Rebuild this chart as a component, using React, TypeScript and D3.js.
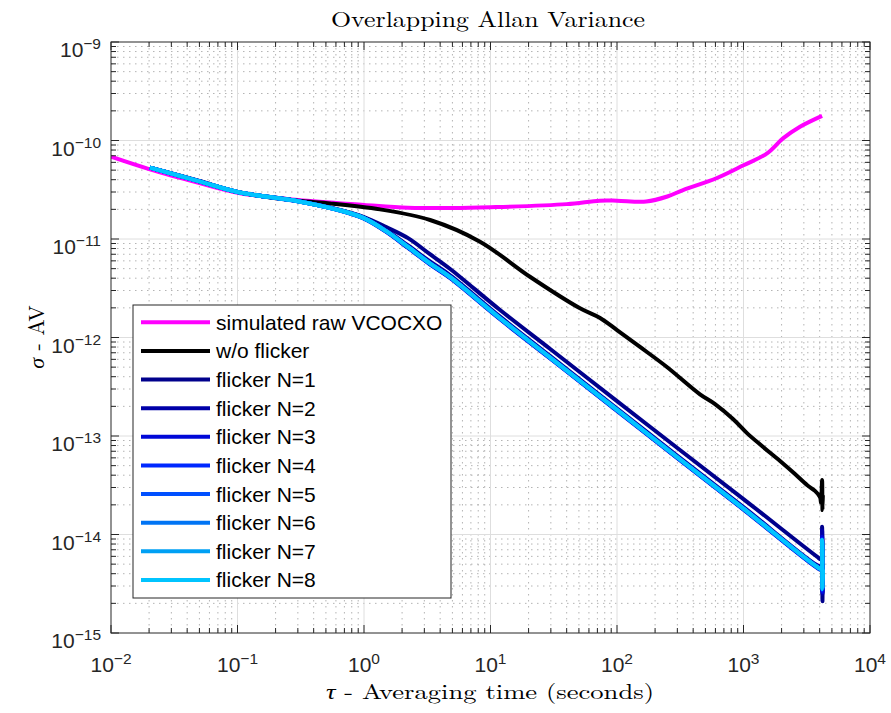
import React from "react";
import * as d3 from "d3";

// ---------- data ----------
const rawTau = [0.01, 0.0203, 0.05, 0.1, 0.3, 1, 2.23, 5, 10, 40, 73, 100, 170, 250, 333, 617, 1000, 1535, 2052, 2797, 4180];
const rawVal = [6.85e-11, 5.1e-11, 3.7e-11, 2.95e-11, 2.49e-11, 2.22e-11, 2.08e-11, 2.06e-11, 2.1e-11, 2.26e-11, 2.45e-11, 2.45e-11, 2.4e-11, 2.7e-11, 3.14e-11, 4.16e-11, 5.6e-11, 7.4e-11, 1.05e-10, 1.38e-10, 1.78e-10];

const noFlickTau = [0.0203, 0.05, 0.1, 0.3, 0.538, 1.34, 3.33, 8.26, 20.5, 51, 73.5, 100, 152, 248, 453, 596, 826, 1066, 1400, 1946, 2553, 3178, 3673, 4027, 4100, 4180, 4210, 4240];
const noFlickVal = [5.3e-11, 3.85e-11, 3.0e-11, 2.44e-11, 2.3e-11, 2.0e-11, 1.56e-11, 9.4e-12, 4.14e-12, 1.98e-12, 1.58e-12, 1.19e-12, 8.02e-13, 5.02e-13, 2.65e-13, 2.11e-13, 1.49e-13, 1.07e-13, 7.91e-14, 5.57e-14, 4.11e-14, 3.18e-14, 2.77e-14, 2.4e-14, 2.1e-14, 3.57e-14, 1.77e-14, 2.5e-14];

const flickTau = [0.0203, 0.05, 0.1, 0.3, 0.6, 1, 1.5, 2.23, 3.3, 4.8, 11.9, 30, 100, 300, 1000, 3811, 4100, 4180, 4210, 4240];
const flickN1 = [5.3e-11, 3.88e-11, 3.0e-11, 2.43e-11, 2.02e-11, 1.67e-11, 1.32e-11, 1.02e-11, 7.05e-12, 4.96e-12, 1.9e-12, 7.55e-13, 2.26e-13, 7.55e-14, 2.29e-14, 5.96e-15, 5.6e-15, 1.2e-14, 2.1e-15, 5.0e-15];
const flickN2 = [5.3e-11, 3.86e-11, 3.01e-11, 2.43e-11, 2.01e-11, 1.65e-11, 1.23e-11, 8.6e-12, 5.95e-12, 4.28e-12, 1.63e-12, 6.4e-13, 1.9e-13, 6.3e-14, 1.9e-14, 4.9e-15, 4.8e-15, 1.1e-14, 2.5e-15, 5.0e-15];
const flickN3 = [5.3e-11, 3.84e-11, 2.99e-11, 2.41e-11, 1.99e-11, 1.61e-11, 1.18e-11, 8.1e-12, 5.55e-12, 4.0e-12, 1.53e-12, 6.05e-13, 1.8e-13, 5.95e-14, 1.79e-14, 4.6e-15, 4.4e-15, 9.5e-15, 2.6e-15, 4.3e-15];
const flickN4 = [5.3e-11, 3.85e-11, 3.0e-11, 2.42e-11, 2.0e-11, 1.62e-11, 1.19e-11, 8.2e-12, 5.6e-12, 4.05e-12, 1.55e-12, 6.1e-13, 1.82e-13, 6.0e-14, 1.81e-14, 4.65e-15, 4.5e-15, 9.0e-15, 2.7e-15, 4.4e-15];
const flickN5 = [5.3e-11, 3.85e-11, 3.0e-11, 2.42e-11, 2.0e-11, 1.62e-11, 1.2e-11, 8.25e-12, 5.65e-12, 4.08e-12, 1.56e-12, 6.13e-13, 1.83e-13, 6.05e-14, 1.82e-14, 4.7e-15, 4.5e-15, 8.5e-15, 2.9e-15, 4.4e-15];
const flickN6 = [5.3e-11, 3.85e-11, 3.0e-11, 2.42e-11, 2.0e-11, 1.63e-11, 1.2e-11, 8.28e-12, 5.68e-12, 4.09e-12, 1.57e-12, 6.16e-13, 1.84e-13, 6.07e-14, 1.83e-14, 4.7e-15, 4.5e-15, 8.7e-15, 2.85e-15, 4.4e-15];
const flickN7 = [5.3e-11, 3.85e-11, 3.0e-11, 2.42e-11, 2.0e-11, 1.63e-11, 1.2e-11, 8.3e-12, 5.7e-12, 4.1e-12, 1.57e-12, 6.18e-13, 1.84e-13, 6.08e-14, 1.83e-14, 4.7e-15, 4.5e-15, 8.8e-15, 2.8e-15, 4.4e-15];
const flickN8 = [5.3e-11, 3.85e-11, 3.0e-11, 2.42e-11, 2.0e-11, 1.63e-11, 1.2e-11, 8.3e-12, 5.7e-12, 4.1e-12, 1.57e-12, 6.18e-13, 1.84e-13, 6.08e-14, 1.83e-14, 4.7e-15, 4.5e-15, 8.8e-15, 2.8e-15, 4.4e-15];

const seriesNames = ["simulated raw VCOCXO", "w/o flicker", "flicker N=1", "flicker N=2", "flicker N=3", "flicker N=4", "flicker N=5", "flicker N=6", "flicker N=7", "flicker N=8"];
const seriesColors = ["#ff00ff", "#000000", "#00008c", "#0000a8", "#0008d8", "#0028ff", "#0050ff", "#0074f4", "#00a0f4", "#00c4ff"];

const xTickExps = [-2, -1, 0, 1, 2, 3, 4];
const yTickExps = [-15, -14, -13, -12, -11, -10, -9];

const titleText = "Overlapping Allan Variance";
const xLabelRest = " - Averaging time (seconds)";
const yLabelRest = " - AV";

// ---------- layout ----------
const W = 891, H = 713;
const L = 111, R = 870, T = 42, B = 633;
const SANS = "'Liberation Sans', Arial, Helvetica, sans-serif";
const SERIF = "'Latin Modern Roman', 'CMU Serif', 'Liberation Serif', 'Times New Roman', serif";
const AX = "#262626";

export default function App() {
  const x = d3.scaleLog().domain([1e-2, 1e4]).range([L, R]);
  const y = d3.scaleLog().domain([1e-15, 1e-9]).range([B, T]);

  const series = [
    { tau: rawTau, val: rawVal },
    { tau: noFlickTau, val: noFlickVal },
    ...[flickN1, flickN2, flickN3, flickN4, flickN5, flickN6, flickN7, flickN8].map((v) => ({ tau: flickTau, val: v })),
  ];

  const line = d3
    .line<[number, number]>()
    .x((d) => x(d[0]))
    .y((d) => y(d[1]))
    .curve(d3.curveCatmullRom.alpha(0.5));

  const minorX: number[] = [];
  for (let e = -2; e < 4; e++) for (let k = 2; k <= 9; k++) minorX.push(k * Math.pow(10, e));
  const minorY: number[] = [];
  for (let e = -15; e < -9; e++) for (let k = 2; k <= 9; k++) minorY.push(k * Math.pow(10, e));
  const majorX = xTickExps.map((e) => Math.pow(10, e));
  const majorY = yTickExps.map((e) => Math.pow(10, e));

  const fmt = (e: number) => (e < 0 ? "\u2212" + Math.abs(e) : String(e));

  const legX = 133, legY = 305, legW = 318, legH = 293;
  const rowY0 = 322.3, rowDy = 28.63;

  return (
    <svg width={W} height={H} style={{ position: "absolute", left: 0, top: 0, background: "#fff" }}>
      <rect x={0} y={0} width={W} height={H} fill="#fff" />
      <rect x={L} y={T} width={R - L} height={B - T} fill="#fff" />
      {/* minor grid */}
      <g stroke="#b4b4b4" strokeWidth={1} strokeDasharray="1.5,4.5">
        {minorX.map((v, i) => (
          <line key={"mx" + i} x1={x(v)} x2={x(v)} y1={T} y2={B} />
        ))}
        {minorY.map((v, i) => (
          <line key={"my" + i} x1={L} x2={R} y1={y(v)} y2={y(v)} />
        ))}
      </g>
      {/* major grid */}
      <g stroke="#dedede" strokeWidth={1}>
        {majorX.slice(1, -1).map((v, i) => (
          <line key={"Mx" + i} x1={x(v)} x2={x(v)} y1={T} y2={B} />
        ))}
        {majorY.slice(1, -1).map((v, i) => (
          <line key={"My" + i} x1={L} x2={R} y1={y(v)} y2={y(v)} />
        ))}
      </g>
      {/* data */}
      <defs>
        <clipPath id="plotclip">
          <rect x={L} y={T} width={R - L} height={B - T} />
        </clipPath>
      </defs>
      <g clipPath="url(#plotclip)" fill="none">
        {series.map((s, i) => (
          <path
            key={"s" + i}
            d={line(s.tau.map((t, j) => [t, s.val[j]] as [number, number])) || ""}
            stroke={seriesColors[i]}
            strokeWidth={4}
            strokeLinejoin="round"
          />
        ))}
      </g>
      {/* axes box & ticks */}
      <g stroke={AX} strokeWidth={1} fill="none">
        <rect x={L} y={T} width={R - L} height={B - T} />
        {majorX.map((v, i) => (
          <g key={"tx" + i}>
            <line x1={x(v)} x2={x(v)} y1={B} y2={B - 8} />
            <line x1={x(v)} x2={x(v)} y1={T} y2={T + 8} />
          </g>
        ))}
        {minorX.map((v, i) => (
          <g key={"tmx" + i}>
            <line x1={x(v)} x2={x(v)} y1={B} y2={B - 5} />
            <line x1={x(v)} x2={x(v)} y1={T} y2={T + 5} />
          </g>
        ))}
        {majorY.map((v, i) => (
          <g key={"ty" + i}>
            <line x1={L} x2={L + 8} y1={y(v)} y2={y(v)} />
            <line x1={R} x2={R - 8} y1={y(v)} y2={y(v)} />
          </g>
        ))}
        {minorY.map((v, i) => (
          <g key={"tmy" + i}>
            <line x1={L} x2={L + 5} y1={y(v)} y2={y(v)} />
            <line x1={R} x2={R - 5} y1={y(v)} y2={y(v)} />
          </g>
        ))}
      </g>
      {/* tick labels */}
      <g fill={AX} fontFamily={SANS}>
        {xTickExps.map((e, i) => (
          <text key={"xl" + i} x={x(Math.pow(10, e))} y={672} textAnchor="middle" fontSize={21}>
            <tspan>10</tspan>
            <tspan dy={-8} fontSize={15.5}>{fmt(e)}</tspan>
          </text>
        ))}
        {yTickExps.map((e, i) => (
          <text key={"yl" + i} x={101} y={y(Math.pow(10, e)) + 15} textAnchor="end" fontSize={21}>
            <tspan>10</tspan>
            <tspan dy={-8} fontSize={15.5}>{fmt(e)}</tspan>
          </text>
        ))}
      </g>
      {/* title & axis labels */}
      <text x={488} y={27} textAnchor="middle" fontFamily={SERIF} fontSize={22} fill="#000" textLength={314} lengthAdjust="spacingAndGlyphs">
        {titleText}
      </text>
      <text x={490} y={699} textAnchor="middle" fontFamily={SERIF} fontSize={21} fill="#000" textLength={328} lengthAdjust="spacingAndGlyphs">
        <tspan fontStyle="italic">τ</tspan>
        <tspan>{xLabelRest}</tspan>
      </text>
      <text
        transform={`translate(44,337) rotate(-90)`}
        textAnchor="middle"
        fontFamily={SERIF}
        fontSize={22}
        fill="#000"
      >
        <tspan fontStyle="italic">σ</tspan>
        <tspan>{yLabelRest}</tspan>
      </text>
      {/* legend */}
      <rect x={legX} y={legY} width={legW} height={legH} fill="#fff" stroke={AX} strokeWidth={1} />
      {seriesNames.map((n, i) => {
        const cy = rowY0 + i * rowDy;
        return (
          <g key={"lg" + i}>
            <line x1={141} x2={210} y1={cy} y2={cy} stroke={seriesColors[i]} strokeWidth={4} />
            <text x={216} y={cy + 7.5} fontFamily={SANS} fontSize={21} fill="#000">
              {n}
            </text>
          </g>
        );
      })}
    </svg>
  );
}
